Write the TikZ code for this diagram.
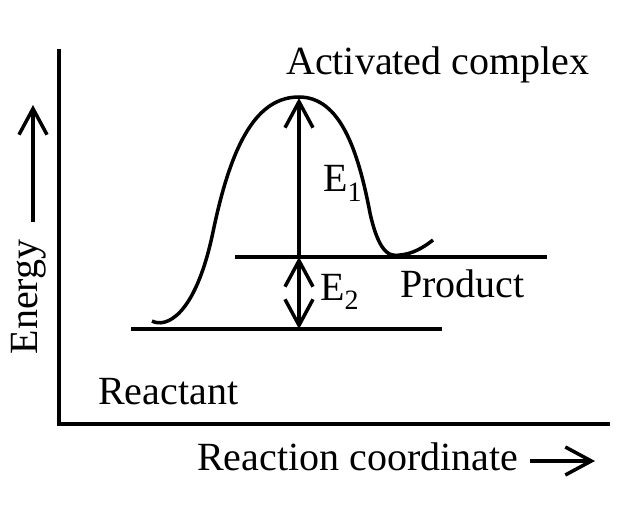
\documentclass[tikz,border=0pt]{standalone}
\usepackage{fontspec}
\setmainfont{Liberation Serif}
\usetikzlibrary{arrows.meta}
\tikzset{
  barb/.tip={Straight Barb[length=26pt,width=28pt]},
  thick line/.style={line width=3.5pt},
  lbl/.style={inner sep=0pt, anchor=base west, font=\fontsize{40}{48}\selectfont},
}
\begin{document}
\begin{tikzpicture}[x=1pt,y=-1pt]
\useasboundingbox (0,0) rectangle (642,505);
% axes
\coordinate (ytop) at (59,49);
\coordinate (origin) at (59,424);
\coordinate (xend) at (610,424);
\draw[thick line] (ytop) -- (origin) -- (xend);
% levels
\coordinate (rl) at (131,329);
\coordinate (rr) at (442,329);
\coordinate (pl) at (235,257);
\coordinate (pr) at (547,257);
\draw[thick line] (rl) -- (rr);
\draw[thick line] (pl) -- (pr);
% curve
\draw[thick line] (152,321) .. controls (165,328) and (195,318) .. (213,232)
  .. controls (232,140) and (258,97) .. (299,97)
  .. controls (340,97) and (358,150) .. (370,213)
  .. controls (380,258) and (392,256) .. (400,255)
  .. controls (412,254) and (423,248) .. (433,240);
% energy arrows
\coordinate (peak) at (299,98);
\coordinate (prod) at (299,257);
\coordinate (react) at (299,329);
\draw[thick line,-barb] (prod) -- (peak);
\draw[thick line,barb-barb] (prod) -- (react);
% labels
\node[lbl] (ac) at (286,75) {Activated complex};
\node[lbl] (e1) at (323,192) {E\textsubscript{1}};
\node[lbl] (e2) at (320,300) {E\textsubscript{2}};
\node[lbl] (pt) at (400,297) {Product};
\node[lbl] (rt) at (98,404) {Reactant};
\node[lbl] (rc) at (197,470) {Reaction coordinate};
\node[inner sep=0pt, anchor=base, rotate=90, font=\fontsize{40}{48}\selectfont] (en) at (37,297) {Energy};
% axis arrows
\coordinate (ea0) at (33,222);
\coordinate (ea1) at (33,105);
\draw[thick line,-barb] (ea0) -- (ea1);
\coordinate (ra0) at (530,461);
\coordinate (ra1) at (595,461);
\draw[thick line,-barb] (ra0) -- (ra1);
\end{tikzpicture}
\end{document}
